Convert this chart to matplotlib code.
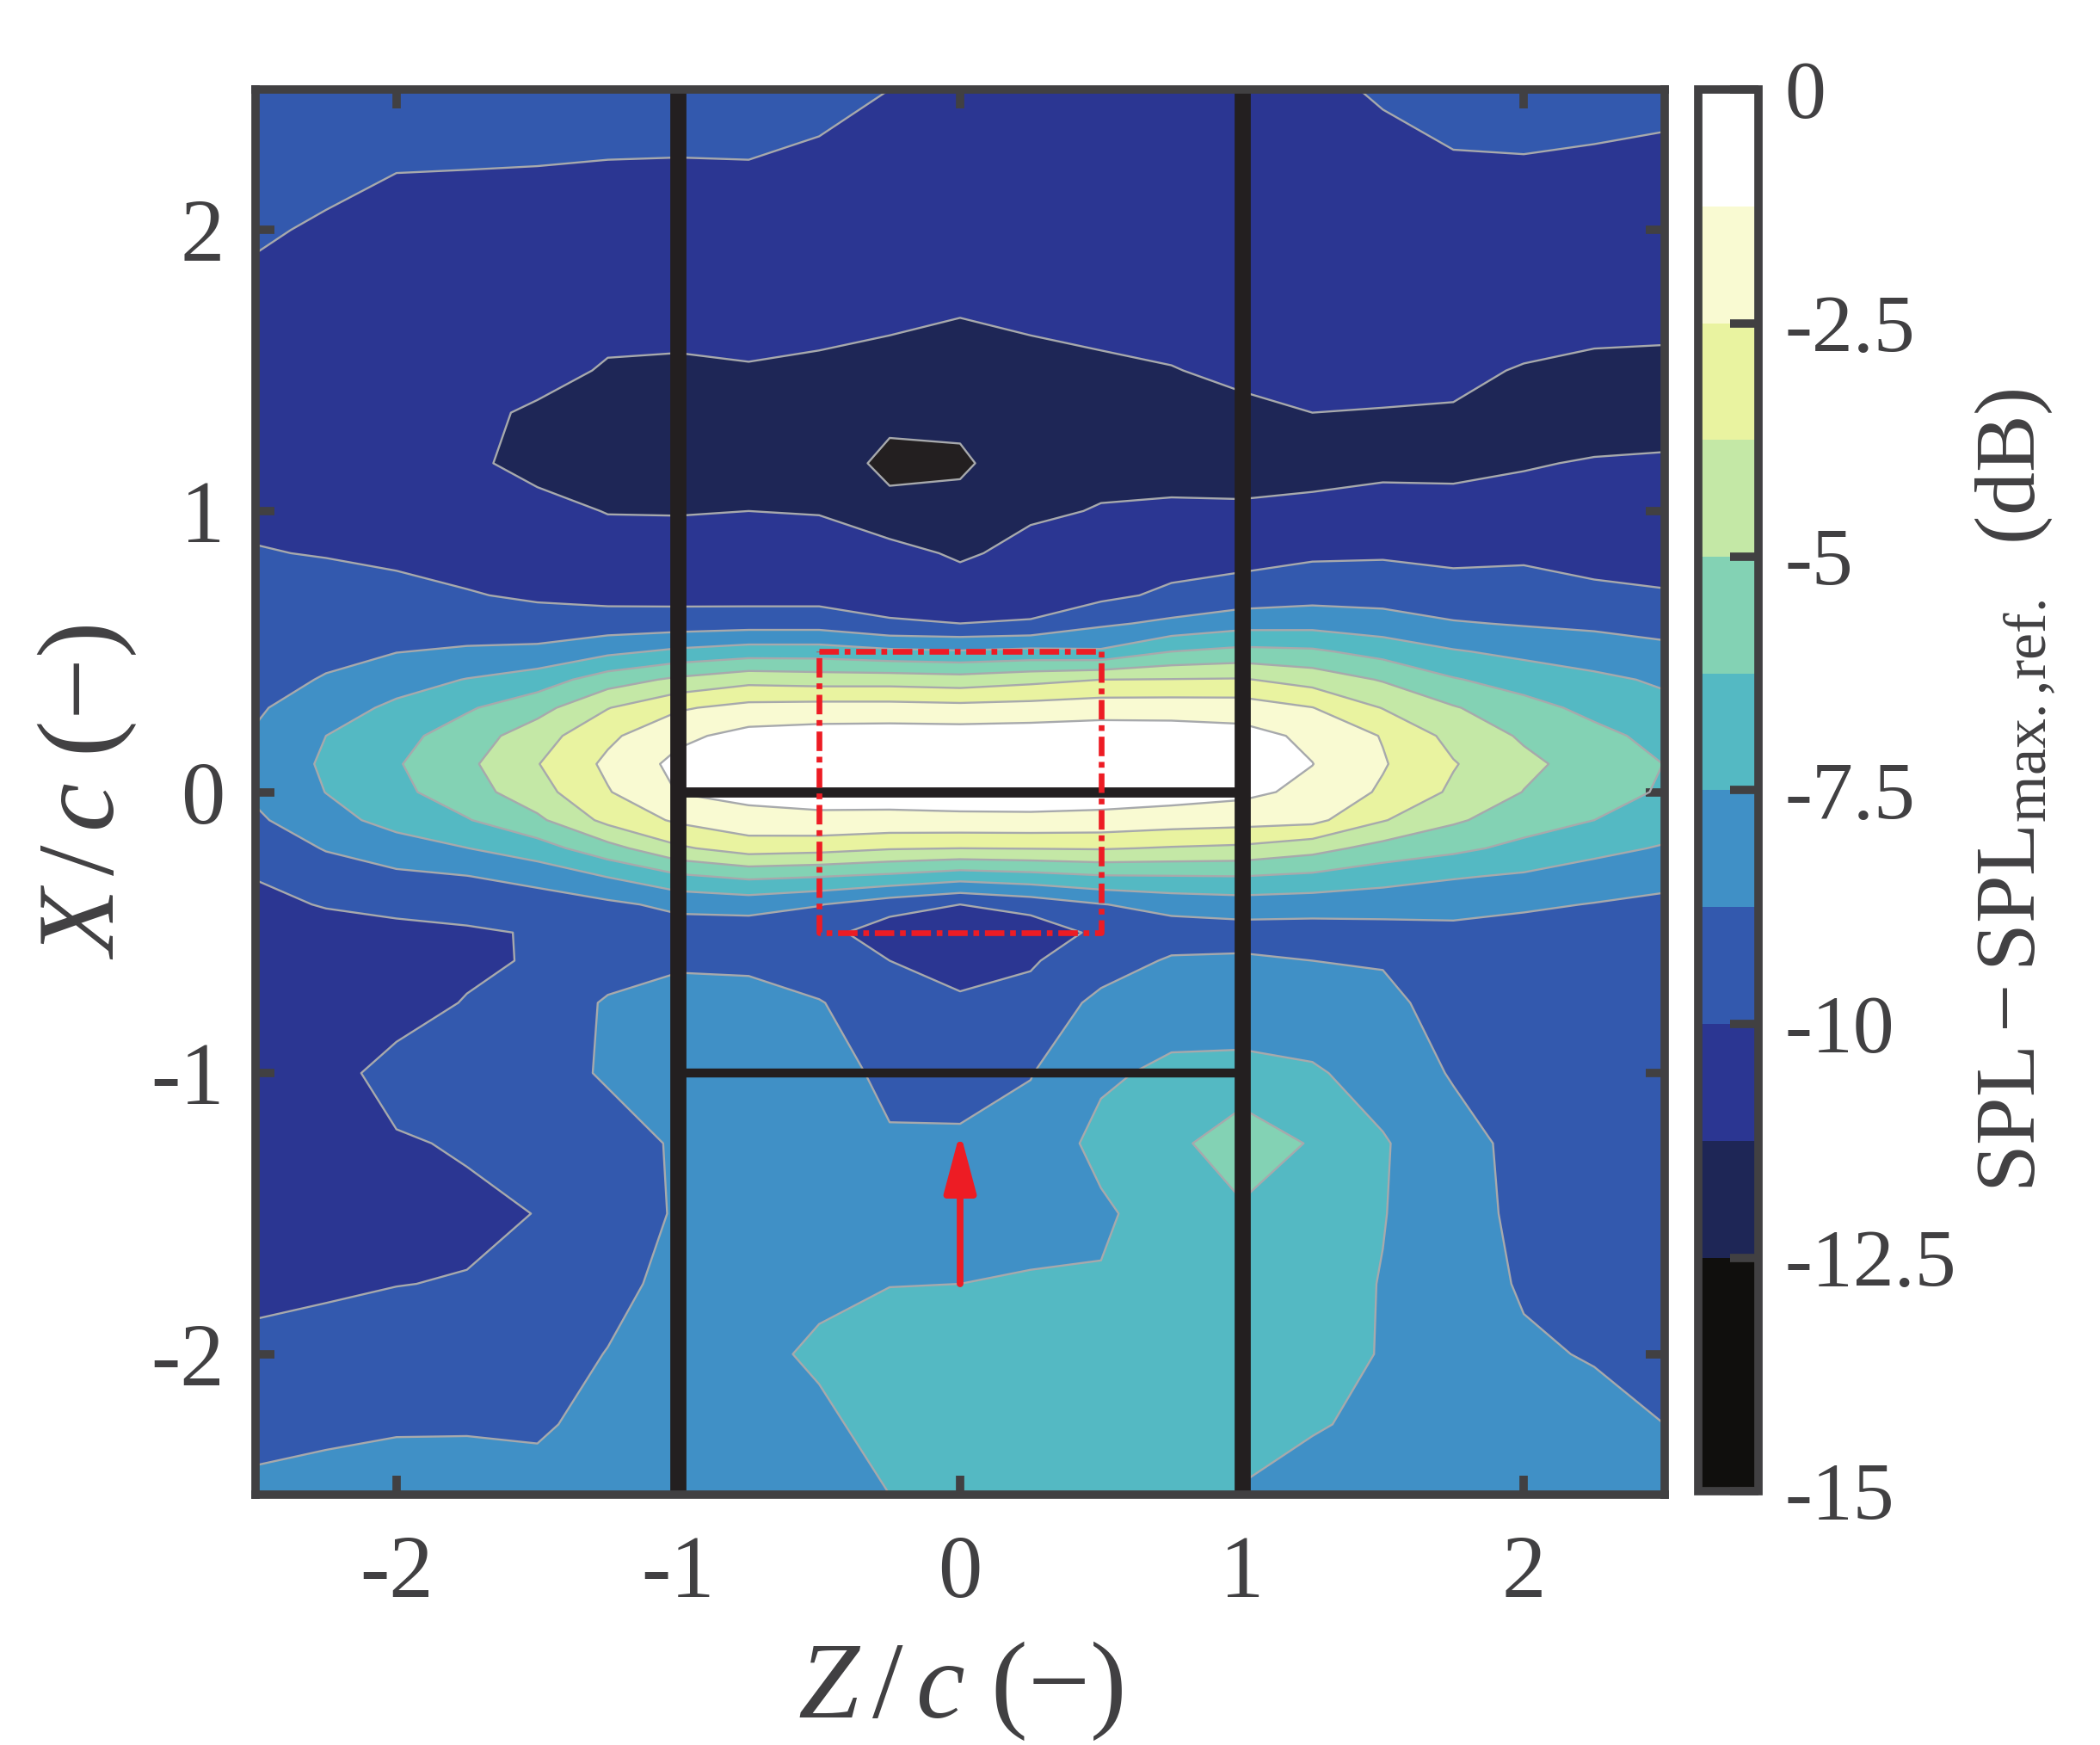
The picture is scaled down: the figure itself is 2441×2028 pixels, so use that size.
import numpy as np
import matplotlib
matplotlib.use("Agg")
import matplotlib.pyplot as plt
from matplotlib.cm import ScalarMappable
from matplotlib.colors import ListedColormap, BoundaryNorm

plt.rcParams['font.family'] = ['Liberation Serif', 'DejaVu Serif']
plt.rcParams['mathtext.fontset'] = 'custom'
plt.rcParams['mathtext.rm'] = 'Liberation Serif'
plt.rcParams['mathtext.it'] = 'Liberation Serif:italic'
plt.rcParams['mathtext.bf'] = 'Liberation Serif:bold'

# Grid
z_c = [-2.5, -2.25, -2, -1.75, -1.5, -1.25, -1, -0.75, -0.5, -0.25, 0,
       0.25, 0.5, 0.75, 1, 1.25, 1.5, 1.75, 2, 2.25, 2.5]
x_c = [2.5, 2.25, 2, 1.75, 1.5, 1.35, 1.17, 1, 0.85, 0.7, 0.6, 0.5, 0.4, 0.3, 0.2, 0.1,
       0, -0.1, -0.2, -0.3, -0.4, -0.5, -0.6, -0.75, -1, -1.25, -1.5, -1.75, -2, -2.25, -2.5]

# SPL - SPLmax,ref (dB), one list per Z/c column, top to bottom
spl_zm250 = [-9.4, -9.6, -9.9, -10.2, -10.4, -10.5, -10.4, -10.2, -9.95, -9.7, -9.5, -9.3, -9.1, -8.9, -8.65, -8.3,
             -8.55, -8.95, -9.45, -9.97, -10.2, -10.4, -10.5, -10.6, -10.7, -10.7, -10.6, -10.2, -9.8, -9.1, -8.5]
spl_zm225 = [-9.5, -9.75, -10.1, -10.4, -10.7, -10.8, -10.7, -10.4, -10.05, -9.61, -9.3, -8.99, -8.68, -8.1, -7.5, -7.34,
             -7.48, -7.93, -8.68, -9.3, -9.95, -10.3, -10.5, -10.7, -10.4, -10.8, -10.6, -10.15, -9.6, -8.95, -8.4]
spl_zm200 = [-9.4, -9.93, -10.3, -10.5, -10.7, -10.9, -10.8, -10.6, -10.25, -9.65, -9.22, -8.78, -8.04, -7.24, -6.64, -6.35,
             -6.55, -7.08, -8.05, -9.0, -9.8, -10.2, -10.4, -10.5, -9.6, -10.1, -10.5, -10.02, -9.5, -8.85, -8.3]
spl_zm175 = [-9.4, -9.95, -10.3, -10.5, -10.8, -11.0, -11.1, -10.7, -10.4, -9.93, -9.35, -8.6, -7.45, -6.4, -5.64, -5.25,
             -5.55, -6.33, -7.52, -8.78, -9.55, -10.15, -10.25, -9.93, -9.6, -9.9, -10.2, -9.95, -9.5, -8.85, -8.25]
spl_zm150 = [-9.4, -9.97, -10.3, -10.6, -10.9, -11.4, -11.5, -11.0, -10.6, -10.15, -9.55, -8.45, -6.9, -5.45, -4.31, -3.8,
             -4.22, -5.25, -6.8, -8.3, -9.4, -9.92, -9.88, -9.65, -9.3, -9.6, -9.98, -9.8, -9.4, -8.9, -8.35]
spl_zm125 = [-9.45, -10.0, -10.4, -10.8, -11.35, -11.6, -11.8, -11.28, -10.9, -10.35, -9.45, -7.8, -5.6, -3.8, -2.74, -2.25,
             -2.58, -3.4, -5.45, -7.45, -9.0, -9.5, -9.4, -8.6, -8.6, -9.3, -9.55, -9.2, -8.7, -8.4, -8.2]
spl_zm100 = [-9.4, -10.02, -10.4, -10.8, -11.4, -11.7, -11.9, -11.3, -10.85, -10.4, -9.4, -7.25, -4.75, -2.65, -1.53, -0.9,
             -1.2, -2.3, -3.95, -6.45, -8.45, -9.35, -8.85, -8.5, -8.35, -8.6, -8.6, -8.3, -8.15, -8.1, -8.05]
spl_zm075 = [-9.5, -10.0, -10.4, -10.9, -11.3, -11.6, -11.85, -11.25, -10.9, -10.45, -9.3, -6.9, -4.15, -2.1, -0.85, -0.6,
             -0.85, -1.7, -3.15, -6.0, -8.25, -9.5, -8.95, -8.4, -8.0, -8.1, -8.15, -8.0, -7.75, -7.9, -7.9]
spl_zm050 = [-9.7, -10.15, -10.55, -11.0, -11.35, -11.4, -11.4, -11.3, -10.8, -10.45, -9.3, -6.9, -4.3, -2.0, -0.7, -0.5,
             -0.8, -1.5, -3.3, -6.2, -8.7, -9.55, -9.5, -8.68, -8.1, -8.0, -7.9, -7.7, -7.35, -7.7, -7.8]
spl_zm025 = [-10.0, -10.5, -10.8, -11.0, -11.5, -12.0, -13.0, -11.94, -10.9, -10.4, -9.9, -7.25, -4.3, -2.0, -0.65, -0.4,
             -0.75, -1.55, -3.65, -6.5, -9.45, -10.7, -10.0, -9.5, -9.1, -8.6, -8.1, -7.52, -7.1, -7.15, -7.5]
spl_z000 = [-10.2, -10.5, -10.8, -11.1, -11.7, -12.03, -12.8, -11.9, -11.4, -10.7, -10.0, -7.4, -4.45, -2.1, -0.65, -0.4,
            -0.7, -1.5, -3.75, -6.95, -10.0, -11.0, -10.4, -9.85, -9.4, -8.5, -8.1, -7.5, -6.95, -6.75, -6.7]
spl_z025 = [-10.3, -10.5, -10.8, -11.05, -11.45, -11.5, -11.4, -11.4, -10.95, -10.55, -9.9, -7.2, -4.1, -2.0, -0.6, -0.3,
            -0.65, -1.5, -3.7, -6.7, -9.5, -10.8, -10.1, -9.7, -8.8, -8.3, -7.9, -7.4, -7.0, -6.85, -6.8]
spl_z050 = [-10.4, -10.6, -10.8, -11.0, -11.35, -11.5, -11.5, -11.2, -10.85, -10.3, -8.95, -7.35, -3.75, -1.8, -0.55, -0.3,
            -0.65, -1.6, -3.65, -6.35, -8.8, -9.7, -9.4, -8.4, -7.7, -7.15, -7.7, -7.4, -7.0, -6.85, -6.8]
spl_z075 = [-10.4, -10.6, -10.8, -11.0, -11.27, -11.5, -11.5, -11.15, -10.6, -9.75, -8.5, -6.25, -3.7, -1.8, -0.6, -0.4,
            -0.7, -1.85, -3.85, -6.3, -8.3, -9.4, -8.6, -8.1, -7.25, -6.7, -6.9, -6.9, -6.9, -6.85, -6.8]
spl_z100 = [-10.5, -10.7, -10.8, -11.0, -11.15, -11.35, -11.4, -11.2, -10.45, -9.45, -8.0, -5.9, -3.65, -1.85, -0.8, -0.7,
            -0.95, -2.0, -4.0, -6.25, -8.1, -9.3, -8.55, -7.9, -7.3, -5.2, -6.5, -7.0, -7.1, -7.25, -7.55]
spl_z125 = [-10.2, -10.7, -10.8, -10.9, -11.1, -11.25, -11.4, -11.15, -10.2, -9.2, -7.95, -6.05, -4.25, -2.47, -1.52, -1.23,
            -1.57, -2.15, -4.55, -6.5, -8.2, -9.3, -8.75, -8.3, -7.35, -6.4, -6.9, -7.0, -7.15, -7.4, -8.0]
spl_z150 = [-9.9, -10.25, -10.8, -10.9, -11.1, -11.27, -11.35, -11.1, -10.15, -9.2, -8.25, -6.7, -5.1, -3.8, -2.57, -2.4,
            -2.67, -3.67, -5.45, -7.0, -8.25, -9.2, -8.85, -8.4, -8.0, -7.4, -7.45, -7.55, -7.55, -7.75, -8.0]
spl_z175 = [-9.7, -10.05, -10.6, -10.9, -11.1, -11.3, -11.4, -11.05, -10.25, -9.55, -8.65, -7.4, -6.15, -4.9, -4.13, -3.67,
            -3.95, -4.82, -5.95, -7.4, -8.35, -9.05, -9.2, -9.3, -8.85, -8.3, -8.3, -8.05, -8.2, -8.3, -8.35]
spl_z200 = [-9.65, -10.03, -10.4, -10.8, -11.3, -11.5, -11.3, -11.0, -10.2, -9.5, -8.85, -7.8, -6.8, -5.8, -5.16, -4.71,
            -5.03, -5.66, -6.6, -7.65, -8.55, -9.25, -9.4, -9.5, -9.4, -9.1, -9.0, -8.9, -8.55, -8.3, -8.15]
spl_z225 = [-9.65, -10.1, -10.4, -10.7, -11.5, -11.6, -11.2, -10.9, -10.5, -9.7, -9.0, -8.1, -7.25, -6.6, -5.9, -5.53,
            -5.7, -6.25, -7.2, -8.0, -8.8, -9.3, -9.5, -9.65, -9.7, -9.6, -9.5, -9.3, -8.85, -8.3, -8.0]
spl_z250 = [-9.7, -10.2, -10.5, -10.9, -11.45, -11.6, -11.15, -10.9, -10.5, -9.9, -9.2, -8.45, -7.67, -7.2, -6.65, -6.27,
            -6.4, -6.95, -7.6, -8.4, -9.0, -9.4, -9.55, -9.75, -9.85, -9.85, -9.7, -9.5, -9.3, -8.75, -8.1]

spl = np.column_stack([spl_zm250, spl_zm225, spl_zm200, spl_zm175, spl_zm150, spl_zm125, spl_zm100,
                       spl_zm075, spl_zm050, spl_zm025, spl_z000, spl_z025, spl_z050, spl_z075,
                       spl_z100, spl_z125, spl_z150, spl_z175, spl_z200, spl_z225, spl_z250])

levels = [-15, -13.75, -12.5, -11.25, -10, -8.75, -7.5, -6.25, -5, -3.75, -2.5, -1.25, 0]
band_colors = ['#100F0D', '#231F20', '#1E2656', '#2B3692', '#3359AE', '#4090C6',
               '#54B9C3', '#83D2B4', '#C4E8A6', '#E9F3A0', '#F9FAD2', '#FFFFFF']
cbar_colors = ['#100F0D', '#100F0D', '#1E2656', '#2B3692', '#3359AE', '#4090C6',
               '#54B9C3', '#83D2B4', '#C4E8A6', '#E9F3A0', '#F9FAD2', '#FFFFFF']
axis_ticks = [-2, -1, 0, 1, 2]
axis_labels = ['-2', '-1', '0', '1', '2']
cbar_ticks = [-15, -12.5, -10, -7.5, -5, -2.5, 0]
cbar_labels = ['-15', '-12.5', '-10', '-7.5', '-5', '-2.5', '0']

# Wing outline and red markers
wing_z = [-1, 1]
wing_le = [0, 0]
wing_te = [-1, -1]
box_z = [-0.5, 0.5, 0.5, -0.5, -0.5]
box_x = [0.5, 0.5, -0.5, -0.5, 0.5]

dark = '#414042'
black = '#231F20'
red = '#ED1C24'
W, H = 2441, 2028

fig = plt.figure(figsize=(W / 100, H / 100), dpi=100)
ax = fig.add_axes([297 / W, 1 - 1737 / H, (1935 - 297) / W, (1737 - 104) / H])

norm = BoundaryNorm(levels, len(band_colors))
cf = ax.contourf(z_c, x_c, spl, levels=levels, cmap=ListedColormap(band_colors), norm=norm)
ax.contour(z_c, x_c, spl, levels=levels[1:-1], colors='#A7A9AC', linewidths=1.7, linestyles='solid')

ax.plot([-1, -1], [-2.5, 2.5], color=black, lw=13.5, solid_capstyle='butt')
ax.plot([1, 1], [-2.5, 2.5], color=black, lw=13.5, solid_capstyle='butt')
ax.plot(wing_z, wing_le, color=black, lw=8.5, solid_capstyle='butt')
ax.plot(wing_z, wing_te, color=black, lw=7.5, solid_capstyle='butt')
ax.plot(box_z, box_x, color=red, lw=4.8, ls=(0, (3.4, 1, 1, 1)))
ax.annotate('', xy=(0, -1.21), xytext=(0, -1.75),
            arrowprops=dict(arrowstyle='-|>,head_length=0.6,head_width=0.16', color=red, lw=5.6,
                            mutation_scale=70, shrinkA=0, shrinkB=0))

ax.set_xlim(-2.5, 2.5)
ax.set_ylim(-2.5, 2.5)
ax.set_xticks(axis_ticks)
ax.set_xticklabels(axis_labels)
ax.set_yticks(axis_ticks)
ax.set_yticklabels(axis_labels)
ax.tick_params(direction='in', length=16, width=7, color=dark, labelcolor=dark, labelsize=74,
               top=True, right=True)
ax.tick_params(axis='x', pad=34)
ax.tick_params(axis='y', pad=26)
for s in ax.spines.values():
    s.set_linewidth(7)
    s.set_color(dark)
ax.set_xlabel(r'$\mathit{Z}\,/\,\mathit{c}\ (-)$', fontsize=92, color=dark, labelpad=20)
ax.set_ylabel(r'$\mathit{X}\,/\,\mathit{c}\ (-)$', fontsize=92, color=dark, labelpad=10)

cax = fig.add_axes([1974 / W, 1 - 1733 / H, (2044 - 1974) / W, (1733 - 104) / H])
cb = fig.colorbar(ScalarMappable(norm=norm, cmap=ListedColormap(cbar_colors)), cax=cax,
                  ticks=cbar_ticks, drawedges=False)
cb.set_ticklabels(cbar_labels)
cb.ax.tick_params(direction='in', length=24, width=7, color=dark, labelcolor=dark, labelsize=69, pad=22)
cb.outline.set_linewidth(7)
cb.outline.set_edgecolor(dark)
cb.set_label(r'$\mathrm{SPL}-\mathrm{SPL}_{\mathrm{max.{,}ref.}}$  (dB)', fontsize=72, color=dark, labelpad=14)

fig.savefig('out.png', dpi=100, facecolor='white')
